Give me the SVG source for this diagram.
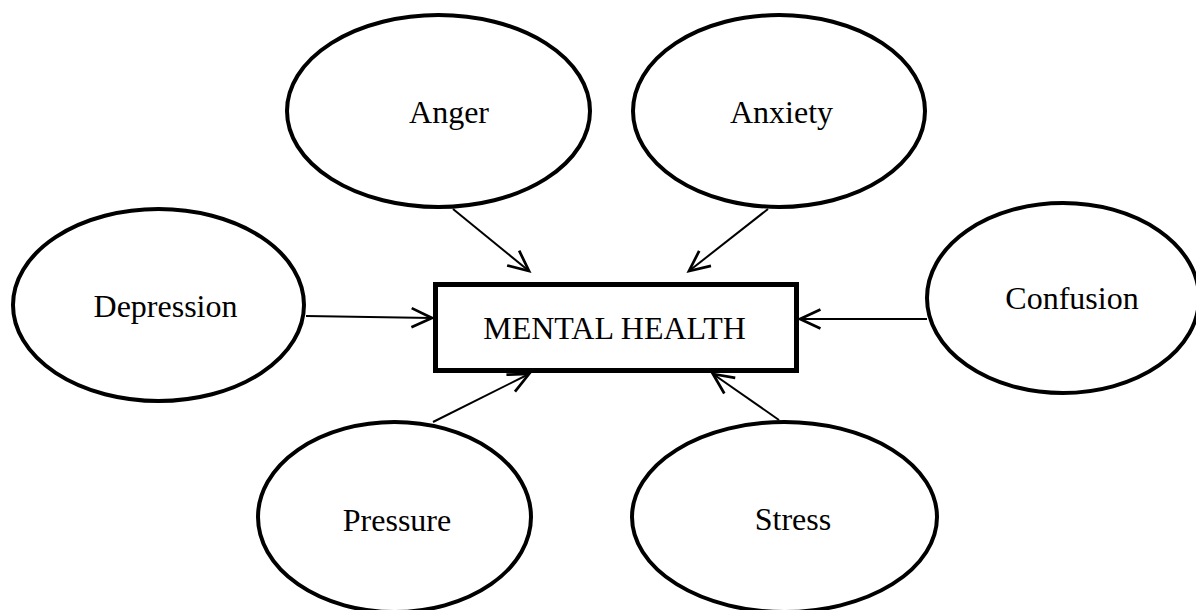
<svg xmlns="http://www.w3.org/2000/svg" width="1196" height="610" viewBox="0 0 1196 610">
<style>
.node{fill:#fff;stroke:#000;stroke-width:4}
.box{fill:#fff;stroke:#000;stroke-width:5}
.lbl{font-family:"Liberation Serif","Times New Roman",serif;font-size:32px;fill:#000;text-anchor:middle}
.conn line{stroke:#000;stroke-width:2;fill:none}
</style>
<defs>
<marker id="arr" markerUnits="userSpaceOnUse" markerWidth="30" markerHeight="30" refX="0" refY="0" viewBox="-20 -10 22 20" orient="auto" overflow="visible">
<path d="M-15,-7 L0,0 L-15,7" fill="none" stroke="#000" stroke-width="2"/>
</marker>
</defs>
<rect width="1196" height="610" fill="#fff"/>
<g id="connectors" class="conn">
<line x1="453" y1="209" x2="529" y2="271" marker-end="url(#arr)"/>
<line x1="768" y1="209" x2="689" y2="271" marker-end="url(#arr)"/>
<line x1="306" y1="316" x2="432" y2="318" marker-end="url(#arr)"/>
<line x1="927" y1="319" x2="800" y2="319" marker-end="url(#arr)"/>
<line x1="433" y1="422" x2="529" y2="374" marker-end="url(#arr)"/>
<line x1="779" y1="420" x2="713" y2="374" marker-end="url(#arr)"/>
</g>
<g id="anger"><ellipse class="node" cx="438.5" cy="111" rx="151.5" ry="96"/><text class="lbl" x="449" y="123">Anger</text></g>
<g id="anxiety"><ellipse class="node" cx="779" cy="111" rx="146" ry="96"/><text class="lbl" x="781.5" y="123">Anxiety</text></g>
<g id="depression"><ellipse class="node" cx="158.5" cy="305" rx="145.5" ry="96"/><text class="lbl" x="165.5" y="317">Depression</text></g>
<g id="confusion"><ellipse class="node" cx="1063" cy="298" rx="136" ry="95"/><text class="lbl" x="1072" y="309">Confusion</text></g>
<g id="pressure"><ellipse class="node" cx="394.5" cy="517" rx="136.5" ry="95"/><text class="lbl" x="397" y="531">Pressure</text></g>
<g id="stress"><ellipse class="node" cx="784.5" cy="517" rx="152.5" ry="95"/><text class="lbl" x="793" y="530">Stress</text></g>
<g id="mental-health"><rect class="box" x="435.5" y="284.5" width="361" height="86"/><text class="lbl" x="614.5" y="339">MENTAL HEALTH</text></g>
</svg>
